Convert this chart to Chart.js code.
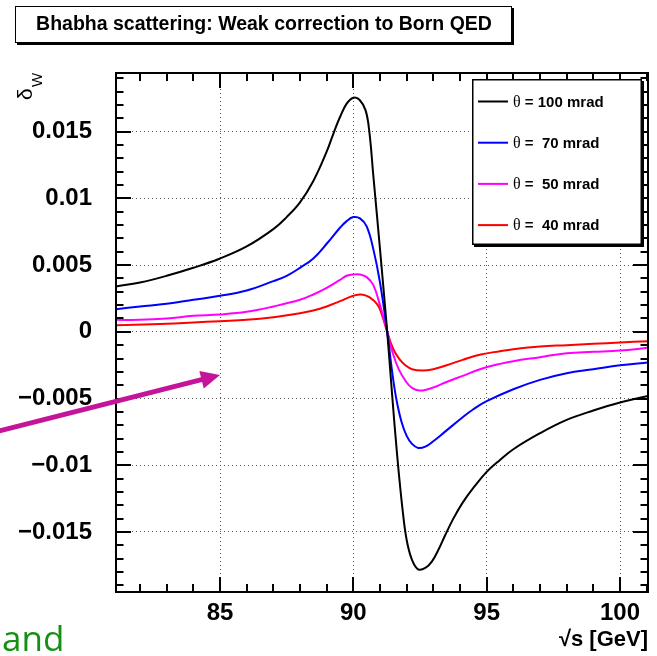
<!DOCTYPE html>
<html>
<head>
<meta charset="utf-8">
<script src="https://cdn.jsdelivr.net/npm/chart.js@4.4.0/dist/chart.umd.min.js"></script>
<style>
  html, body { margin: 0; padding: 0; background: #fff; }
  #wrap { position: relative; width: 657px; height: 656px; }
</style>
</head>
<body>
<div id="wrap"><canvas id="chart"></canvas></div>
<script>
// --- data ---
const titleText = "Bhabha scattering: Weak correction to Born QED";
const legendLabels = ["100 mrad", " 70 mrad", " 50 mrad", " 40 mrad"];
const lineColors = ["#000000", "#0000ff", "#ff00ff", "#ff0000"];

const xTickValues = [85, 90, 95, 100];
const xTickLabels = ["85", "90", "95", "100"];
const yTickValues = [-0.015, -0.01, -0.005, 0, 0.005, 0.01, 0.015];
const yTickLabels = ["\u22120.015", "\u22120.01", "\u22120.005", "0", "0.005", "0.01", "0.015"];
const xRange = [81.1, 101.05];
const yRange = [-0.0195, 0.0194];

// theta = 100 mrad
const sqrtS100 = [81.1, 82, 83, 84, 85, 86, 87, 87.5, 88, 88.5, 89, 89.26, 89.5, 89.75, 90.0, 90.23, 90.46, 90.6, 90.75, 91.0, 91.27, 91.45, 91.65, 91.85, 92.0, 92.2, 92.43, 92.7, 92.95, 93.2, 93.43, 93.75, 94.1, 94.5, 95, 95.5, 96, 97, 98, 99, 100, 101.05];
const delta100 = [0.0034, 0.0037, 0.0042, 0.0048, 0.0055, 0.0064, 0.0077, 0.0086, 0.0097, 0.0113, 0.0135, 0.0149, 0.0161, 0.0171, 0.01755, 0.0174, 0.0166, 0.0150, 0.0117, 0.0062, 0.0, -0.0046, -0.0094, -0.0134, -0.0156, -0.0171, -0.0178, -0.0177, -0.0172, -0.0163, -0.0153, -0.0140, -0.0128, -0.0117, -0.0105, -0.0096, -0.0088, -0.0076, -0.0066, -0.0059, -0.0053, -0.0048];

// theta = 70 mrad
const sqrtS70 = [81.1, 82, 83, 84, 85, 86, 87, 87.5, 88, 88.5, 89, 89.5, 89.75, 90.0, 90.25, 90.5, 90.75, 91.0, 91.27, 91.45, 91.6, 91.8, 92.0, 92.2, 92.43, 92.7, 93.0, 93.43, 94.1, 94.5, 95, 96, 97, 98, 99, 100, 101.05];
const delta70 = [0.0017, 0.0019, 0.0021, 0.0024, 0.0027, 0.0031, 0.0038, 0.0042, 0.0048, 0.0055, 0.0066, 0.0078, 0.0083, 0.0086, 0.0085, 0.0079, 0.0062, 0.0037, 0.0, -0.0029, -0.0049, -0.0067, -0.0078, -0.0084, -0.0087, -0.0086, -0.0082, -0.0075, -0.0064, -0.0058, -0.0052, -0.0043, -0.0036, -0.0031, -0.0028, -0.0025, -0.0023];

// theta = 50 mrad
const sqrtS50 = [81.1, 82, 83, 84, 85, 86, 87, 88, 88.5, 89, 89.5, 89.75, 90.0, 90.25, 90.5, 90.75, 91.0, 91.27, 91.45, 91.7, 92.0, 92.2, 92.47, 92.8, 93.1, 93.45, 94.1, 94.75, 95.5, 96, 97, 98, 99, 100, 101.05];
const delta50 = [0.0009, 0.0009, 0.0010, 0.0012, 0.0013, 0.0015, 0.0019, 0.0024, 0.0028, 0.0033, 0.0039, 0.0042, 0.0043, 0.0043, 0.0041, 0.0035, 0.0020, 0.0, -0.0014, -0.0028, -0.0038, -0.0042, -0.0044, -0.0043, -0.0041, -0.0038, -0.0033, -0.0028, -0.0024, -0.0022, -0.0019, -0.0016, -0.0015, -0.0014, -0.0012];

// theta = 40 mrad
const sqrtS40 = [81.1, 83, 84, 85, 86, 87, 88, 88.5, 89, 89.5, 90.0, 90.3, 90.6, 90.92, 91.1, 91.27, 91.4, 91.55, 91.75, 91.95, 92.2, 92.6, 93.0, 93.5, 94.1, 94.78, 95.5, 96, 97, 98, 99, 100, 101.05];
const delta40 = [0.0005, 0.0006, 0.0007, 0.0008, 0.0009, 0.0011, 0.0014, 0.0016, 0.0019, 0.0023, 0.0027, 0.0028, 0.0026, 0.0020, 0.0011, 0.0, -0.0008, -0.0015, -0.0021, -0.0025, -0.0028, -0.0029, -0.0028, -0.0025, -0.0021, -0.0017, -0.00145, -0.0013, -0.0011, -0.0010, -0.0009, -0.0008, -0.0007];

const seriesX = [sqrtS100, sqrtS70, sqrtS50, sqrtS40];
const seriesY = [delta100, delta70, delta50, delta40];

const boldFont = '"Liberation Sans", Arial, sans-serif';

// ROOT style frame: box round the pad with ticks pointing inward on all four sides
const rootFrame = {
  id: "rootFrame",
  afterDatasetsDraw(chart) {
    const { ctx, chartArea: a, scales } = chart;
    const xs = scales.x, ys = scales.y;
    ctx.save();
    ctx.strokeStyle = "#000";
    ctx.lineWidth = 2;
    ctx.beginPath();
    // minor x ticks every 1 GeV, major at the labelled values
    for (let v = Math.ceil(xRange[0]); v <= xRange[1]; v += 1) {
      const px = Math.round(xs.getPixelForValue(v));
      const len = xTickValues.includes(v) ? 15 : 8;
      ctx.moveTo(px, a.bottom); ctx.lineTo(px, a.bottom - len);
      ctx.moveTo(px, a.top); ctx.lineTo(px, a.top + len);
    }
    // minor y ticks every 0.001
    for (let k = Math.ceil(yRange[0] * 1000); k <= Math.floor(yRange[1] * 1000); k++) {
      const py = Math.round(ys.getPixelForValue(k / 1000));
      const len = k % 5 === 0 ? 15 : 7.5;
      ctx.moveTo(a.left, py); ctx.lineTo(a.left + len, py);
      ctx.moveTo(a.right, py); ctx.lineTo(a.right - len, py);
    }
    ctx.stroke();
    ctx.strokeRect(a.left, a.top, a.right - a.left, a.bottom - a.top);
    ctx.restore();
  },
  afterDraw(chart) {
    const { ctx } = chart;
    ctx.save();

    // title box with shadow
    ctx.fillStyle = "#000";
    ctx.fillRect(17, 43, 497, 2);
    ctx.fillRect(512, 8, 2, 37);
    ctx.fillStyle = "#fff";
    ctx.fillRect(15, 6, 497, 37);
    ctx.strokeStyle = "#000";
    ctx.lineWidth = 1;
    ctx.strokeRect(15.5, 6.5, 496, 36);
    ctx.fillStyle = "#000";
    ctx.font = "bold 19.5px " + boldFont;
    ctx.textAlign = "center";
    ctx.textBaseline = "middle";
    ctx.fillText(titleText, 264, 25);

    // y axis title: delta_W, rotated
    ctx.save();
    ctx.translate(32, 100);
    ctx.rotate(-Math.PI / 2);
    ctx.textAlign = "left";
    ctx.textBaseline = "alphabetic";
    ctx.font = '21px "Liberation Sans", sans-serif';
    ctx.fillText("\u03b4", 0, 0);
    ctx.font = '15px "Liberation Sans", sans-serif';
    ctx.fillText("W", 13, 10);
    ctx.restore();

    // legend box
    const lx = 472, ly = 79, lw = 170, lh = 166;
    ctx.fillStyle = "#000";
    ctx.fillRect(lx + 2, ly + lh, lw, 2);
    ctx.fillRect(lx + lw, ly + 2, 2, lh);
    ctx.fillStyle = "#fff";
    ctx.fillRect(lx, ly, lw, lh);
    ctx.lineWidth = 1.5;
    ctx.strokeRect(lx + 0.75, ly + 0.75, lw - 1.5, lh - 1.5);
    chart.data.datasets.forEach((ds, i) => {
      const ry = 101.5 + i * 41.2;
      ctx.strokeStyle = ds.borderColor;
      ctx.lineWidth = 2;
      ctx.beginPath();
      ctx.moveTo(478, ry); ctx.lineTo(508, ry);
      ctx.stroke();
      ctx.fillStyle = "#000";
      ctx.textAlign = "left";
      ctx.textBaseline = "middle";
      ctx.font = '16px "Liberation Serif", serif';
      ctx.fillText("\u03b8", 513, ry + 1);
      const tw = ctx.measureText("\u03b8").width;
      ctx.font = "bold 15px " + boldFont;
      ctx.fillText(" = " + ds.label, 513 + tw, ry + 1);
    });

    // green word left over from the slide
    ctx.fillStyle = "#149114";
    ctx.font = '35px "Open Sans", sans-serif';
    ctx.textAlign = "left";
    ctx.textBaseline = "alphabetic";
    ctx.fillText("and", 2, 651);

    // magenta arrow pointing into the plot
    const tip = [220, 375], tail = [-5, 432];
    const dx = tip[0] - tail[0], dy = tip[1] - tail[1];
    const L = Math.hypot(dx, dy), ux = dx / L, uy = dy / L;
    const bx = tip[0] - 19 * ux, by = tip[1] - 19 * uy;
    ctx.strokeStyle = "#c4149a";
    ctx.fillStyle = "#c4149a";
    ctx.lineWidth = 5;
    ctx.beginPath();
    ctx.moveTo(tail[0], tail[1]);
    ctx.lineTo(bx + 2 * ux, by + 2 * uy);
    ctx.stroke();
    ctx.beginPath();
    ctx.moveTo(tip[0], tip[1]);
    ctx.lineTo(bx - 9 * uy, by + 9 * ux);
    ctx.lineTo(bx + 9 * uy, by - 9 * ux);
    ctx.closePath();
    ctx.fill();

    ctx.restore();
  }
};

const datasets = seriesX.map((xs, i) => ({
  label: legendLabels[i],
  data: xs.map((x, j) => ({ x: x, y: seriesY[i][j] })),
  borderColor: lineColors[i],
  borderWidth: 2,
  pointRadius: 0,
  fill: false,
  tension: 0.4
}));

new Chart(document.getElementById("chart"), {
  type: "line",
  data: { datasets: datasets },
  options: {
    responsive: true,
    maintainAspectRatio: false,
    animation: false,
    layout: { padding: { top: 73, right: 9, left: 0, bottom: 0 } },
    plugins: { legend: { display: false }, tooltip: { enabled: false }, title: { display: false } },
    scales: {
      x: {
        type: "linear",
        min: xRange[0],
        max: xRange[1],
        afterBuildTicks: (s) => { s.ticks = xTickValues.map((v) => ({ value: v })); },
        afterFit: (s) => { s.height = 64; },
        grid: { color: "#555", lineWidth: 1, drawTicks: false },
        border: { display: false, dash: [1, 3] },
        ticks: {
          autoSkip: false,
          maxRotation: 0,
          padding: 7,
          color: "#000",
          font: { family: boldFont, size: 24, weight: "bold" },
          callback: (v, i) => xTickLabels[i]
        },
        title: {
          display: true,
          text: "\u221as [GeV]",
          align: "end",
          color: "#000",
          font: { family: boldFont, size: 22, weight: "bold" },
          padding: { top: 0, bottom: 3 }
        }
      },
      y: {
        type: "linear",
        min: yRange[0],
        max: yRange[1],
        afterBuildTicks: (s) => { s.ticks = yTickValues.map((v) => ({ value: v })); },
        afterFit: (s) => { s.width = 116; },
        grid: { color: "#555", lineWidth: 1, drawTicks: false },
        border: { display: false, dash: [1, 3] },
        ticks: {
          autoSkip: false,
          padding: 24,
          color: "#000",
          font: { family: boldFont, size: 24, weight: "bold" },
          callback: (v, i) => yTickLabels[i]
        }
      }
    }
  },
  plugins: [rootFrame]
});
</script>
</body>
</html>
